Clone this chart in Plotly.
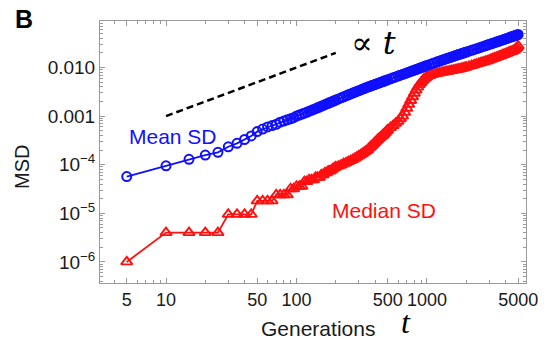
import plotly.graph_objects as go

# Generations t
t = [5, 10, 15, 20, 25, 30, 35, 40, 45, 50, 55, 60, 65, 70, 75, 80, 85, 90, 95, 100,
     105, 110, 115, 120, 125, 130, 135, 140, 145, 150, 155, 160, 165, 170, 175, 180, 185, 190, 195, 200,
     210, 220, 230, 240, 250, 260, 270, 280, 290, 300, 310, 320, 330, 340, 350, 360, 370, 380, 390, 400,
     410, 420, 430, 440, 450, 460, 470, 480, 490, 500,
     525, 550, 575, 600, 625, 650, 675, 700, 725, 750, 775, 800, 825, 850, 875, 900, 925, 950, 975, 1000,
     1050, 1100, 1150, 1200, 1250, 1300, 1350, 1400, 1450, 1500, 1550, 1600, 1650, 1700, 1750, 1800,
     1850, 1900, 1950, 2000,
     2100, 2200, 2300, 2400, 2500, 2600, 2700, 2800, 2900, 3000, 3100, 3200, 3300, 3400, 3500, 3600,
     3700, 3800, 3900, 4000, 4100, 4200, 4300, 4400, 4500, 4600, 4700, 4800, 4900, 5000]

# Mean SD (blue circles)
mean_sd = [5.7e-5, 9.5e-5, 1.29e-4, 1.58e-4, 1.80e-4, 2.34e-4, 2.75e-4, 3.30e-4, 3.90e-4, 4.80e-4,
           5.40e-4, 6.00e-4, 6.40e-4, 6.80e-4, 7.50e-4, 7.90e-4, 8.40e-4, 8.80e-4, 9.30e-4, 1.00e-3,
           1.05e-3, 1.10e-3, 1.15e-3, 1.20e-3, 1.26e-3, 1.31e-3, 1.37e-3, 1.42e-3, 1.48e-3, 1.54e-3,
           1.60e-3, 1.66e-3, 1.72e-3, 1.78e-3, 1.84e-3, 1.90e-3, 1.96e-3, 2.02e-3, 2.08e-3, 2.14e-3,
           2.26e-3, 2.38e-3, 2.50e-3, 2.62e-3, 2.74e-3, 2.86e-3, 2.98e-3, 3.10e-3, 3.22e-3, 3.34e-3,
           3.46e-3, 3.58e-3, 3.70e-3, 3.82e-3, 3.94e-3, 4.05e-3, 4.16e-3, 4.27e-3, 4.38e-3, 4.49e-3,
           4.60e-3, 4.71e-3, 4.82e-3, 4.93e-3, 5.04e-3, 5.15e-3, 5.26e-3, 5.37e-3, 5.48e-3, 5.59e-3,
           5.86e-3, 6.13e-3, 6.40e-3, 6.67e-3, 6.94e-3, 7.21e-3, 7.48e-3, 7.75e-3, 8.02e-3, 8.29e-3,
           8.56e-3, 8.83e-3, 9.10e-3, 9.37e-3, 9.64e-3, 9.91e-3, 1.018e-2, 1.045e-2, 1.072e-2, 1.10e-2,
           0.01152, 0.01204, 0.01255, 0.01306, 0.01357, 0.01408, 0.01458, 0.01508, 0.01557, 0.01606,
           0.01655, 0.01703, 0.01751, 0.01799, 0.01846, 0.01893, 0.0194, 0.01986, 0.02032, 0.02078,
           0.0217, 0.0226, 0.0235, 0.0244, 0.0253, 0.0262, 0.0271, 0.0280, 0.0289, 0.0298,
           0.0307, 0.0316, 0.0325, 0.0334, 0.0343, 0.0352, 0.0361, 0.0370, 0.0379, 0.0388,
           0.0397, 0.0406, 0.0415, 0.0424, 0.0433, 0.0442, 0.0451, 0.0460, 0.0469, 0.0478]

# Median SD (red triangles)
median_sd = [1.0e-6, 4.0e-6, 4.0e-6, 4.0e-6, 4.0e-6, 9.5e-6, 9.5e-6, 9.5e-6, 9.5e-6, 1.8e-5,
             1.8e-5, 1.8e-5, 1.8e-5, 2.4e-5, 2.4e-5, 2.4e-5, 2.4e-5, 3.2e-5, 3.2e-5, 3.6e-5,
             3.6e-5, 3.6e-5, 4.5e-5, 4.5e-5, 4.9e-5, 4.9e-5, 4.9e-5, 5.5e-5, 5.5e-5, 5.5e-5,
             6.2e-5, 6.2e-5, 6.8e-5, 6.8e-5, 7.4e-5, 7.4e-5, 7.8e-5, 8.2e-5, 8.6e-5, 9.0e-5,
             9.4e-5, 9.8e-5, 1.05e-4, 1.10e-4, 1.16e-4, 1.22e-4, 1.28e-4, 1.36e-4, 1.44e-4, 1.52e-4,
             1.60e-4, 1.70e-4, 1.80e-4, 1.90e-4, 2.00e-4, 2.20e-4, 2.35e-4, 2.50e-4, 2.70e-4, 2.90e-4,
             3.10e-4, 3.30e-4, 3.50e-4, 3.70e-4, 3.90e-4, 4.10e-4, 4.35e-4, 4.60e-4, 4.90e-4, 5.20e-4,
             5.8e-4, 6.4e-4, 7.1e-4, 7.8e-4, 8.8e-4, 1.0e-3, 1.2e-3, 1.45e-3, 1.75e-3, 2.1e-3,
             2.5e-3, 2.95e-3, 3.45e-3, 3.95e-3, 4.45e-3, 4.9e-3, 5.4e-3, 5.8e-3, 6.15e-3, 6.45e-3,
             6.85e-3, 7.15e-3, 7.4e-3, 7.6e-3, 7.8e-3, 7.95e-3, 8.1e-3, 8.25e-3, 8.4e-3, 8.55e-3,
             8.7e-3, 8.85e-3, 9.0e-3, 9.15e-3, 9.3e-3, 9.45e-3, 9.6e-3, 9.8e-3, 1.0e-2, 1.02e-2,
             1.06e-2, 1.10e-2, 1.14e-2, 1.18e-2, 1.22e-2, 1.26e-2, 1.30e-2, 1.34e-2, 1.38e-2, 1.42e-2,
             0.0147, 0.0152, 0.0157, 0.0162, 0.0167, 0.0172, 0.0177, 0.0182, 0.0187, 0.0192,
             0.0197, 0.0202, 0.0207, 0.0212, 0.0217, 0.0222, 0.0230, 0.0243, 0.0258, 0.0278]

# Reference slope line (∝ t)
ref_t = [10, 200]
ref_msd = [0.001, 0.02]

x_tick_vals = [5, 10, 50, 100, 500, 1000, 5000]
x_tick_text = ["5", "10", "50", "100", "500", "1000", "5000"]
x_minor = [4, 6, 7, 8, 9, 20, 30, 40, 60, 70, 80, 90, 200, 300, 400, 600, 700, 800, 900,
           2000, 3000, 4000]
y_tick_vals = [1e-6, 1e-5, 1e-4, 1e-3, 1e-2]
y_tick_text = ["10<sup>\u22126</sup>", "10<sup>\u22125</sup>", "10<sup>\u22124</sup>", "0.001", "0.010"]
y_minor = [m * 10.0 ** e for e in range(-7, -1) for m in range(2, 10)]

assert len(t) == len(mean_sd) == len(median_sd)

BLUE = "#1010ff"
RED = "#ff1010"
FRAME = "#9a9a9a"

fig = go.Figure()
fig.add_trace(go.Scatter(x=ref_t, y=ref_msd, mode="lines",
                         line=dict(color="black", width=2.5, dash="7px,4px"),
                         showlegend=False, hoverinfo="skip"))
fig.add_trace(go.Scatter(x=t, y=median_sd, mode="lines+markers",
                         line=dict(color=RED, width=1.8),
                         marker=dict(symbol="triangle-up-open", size=10, color=RED,
                                     line=dict(width=1.9, color=RED)),
                         showlegend=False))
fig.add_trace(go.Scatter(x=t, y=mean_sd, mode="lines+markers",
                         line=dict(color=BLUE, width=1.8),
                         marker=dict(symbol="circle-open", size=9, color=BLUE,
                                     line=dict(width=2, color=BLUE)),
                         showlegend=False))

axis_common = dict(type="log", showgrid=False, zeroline=False, showline=True,
                   linecolor=FRAME, linewidth=1, mirror="allticks", ticks="inside",
                   ticklen=5, tickcolor=FRAME, tickwidth=1)

fig.update_xaxes(**axis_common, range=[0.494, 3.759],
                 tickvals=x_tick_vals, ticktext=x_tick_text,
                 tickfont=dict(family="Liberation Sans, Arial", size=18, color="#1a1a1a"),
                 minor=dict(tickvals=x_minor, ticks="inside", ticklen=3, tickcolor=FRAME))
fig.update_yaxes(**axis_common, range=[-6.434, -1.043],
                 tickvals=y_tick_vals, ticktext=y_tick_text,
                 tickfont=dict(family="Liberation Sans, Arial", size=19, color="#1a1a1a"),
                 minor=dict(tickvals=y_minor, ticks="inside", ticklen=3, tickcolor=FRAME))

ann = []
ann.append(dict(text="<b>B</b>", x=-0.178, y=1.008, font=dict(size=25, color="black")))
ann.append(dict(text="MSD", x=-0.183, y=0.443, textangle=-90, font=dict(size=20, color="#1a1a1a")))
ann.append(dict(text="Generations", x=0.512, y=-0.172, font=dict(size=21, color="#1a1a1a")))
ann.append(dict(text="<i>t</i>", x=0.718, y=-0.150,
                font=dict(family="Liberation Serif, DejaVu Serif", size=32, color="black")))
ann.append(dict(text="Mean SD", x=0.171, y=0.561, font=dict(size=21, color=BLUE)))
ann.append(dict(text="Median SD", x=0.667, y=0.275, font=dict(size=21, color=RED)))
ann.append(dict(text="\u221d <i>t</i>", x=0.641, y=0.916,
                font=dict(family="DejaVu Serif", size=32, color="black")))
for a in ann:
    a.update(xref="paper", yref="paper", showarrow=False, xanchor="center", yanchor="middle")
    a.setdefault("font", {})
    a["font"].setdefault("family", "Liberation Sans, Arial")

fig.update_layout(width=549, height=342, margin=dict(l=100, r=23, t=21, b=59),
                  paper_bgcolor="white", plot_bgcolor="white", annotations=ann,
                  font=dict(family="Liberation Sans, Arial"))

fig.write_html("out.html")
